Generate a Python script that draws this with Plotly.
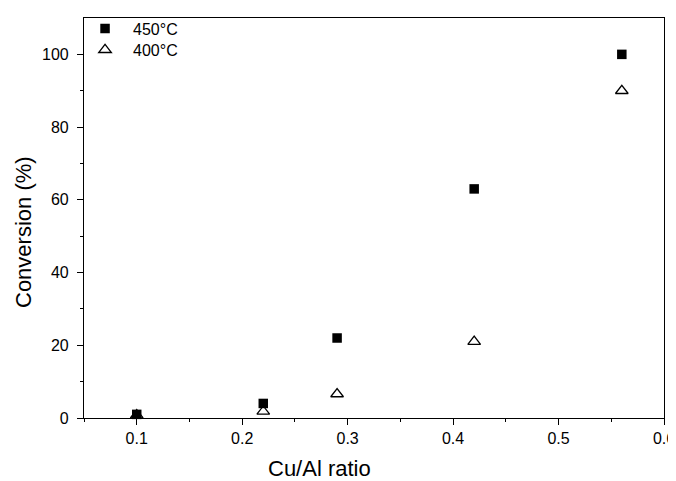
import plotly.graph_objects as go

cu_al_ratio = [0.10, 0.22, 0.29, 0.42, 0.56]
conv_450 = [1.0, 4.0, 22.0, 63.0, 100.0]
conv_400 = [0.8, 1.8, 6.6, 21.0, 90.0]
series_names = ["450°C", "400°C"]
x_ticks = [0.1, 0.2, 0.3, 0.4, 0.5, 0.6]
y_ticks = [0, 20, 40, 60, 80, 100]

font_family = "Liberation Sans, Arial, sans-serif"

fig = go.Figure()
fig.add_trace(go.Scatter(
    x=cu_al_ratio, y=conv_450, mode="markers", name=series_names[0],
    marker=dict(symbol="square", size=9.5, color="black", line=dict(width=0)),
    cliponaxis=False, legend="legend",
))
fig.add_trace(go.Scatter(
    x=cu_al_ratio, y=conv_400, mode="markers", name=series_names[1],
    marker=dict(symbol="triangle-up-open", size=11, color="black", line=dict(width=1.3, color="black")),
    cliponaxis=False, legend="legend2",
))

legend_style = dict(xanchor="left", yanchor="middle", bgcolor="rgba(0,0,0,0)",
                    font=dict(size=16, family=font_family), itemwidth=46)

# page body has an 8px default margin, so the figure is sized/offset to fit the 676x481 window
fig.update_layout(
    width=668, height=473,
    margin=dict(l=76, r=12, t=4, b=63),
    paper_bgcolor="white", plot_bgcolor="white",
    font=dict(family=font_family, color="black", size=16),
    showlegend=True,
    legend=dict(x=-0.012, y=0.9737, **legend_style),
    legend2=dict(x=-0.012, y=0.9204, **legend_style),
    annotations=[
        dict(text="Conversion (%)", xref="paper", yref="paper", x=0, y=0.5,
             xanchor="center", yanchor="middle", xshift=-61, yshift=-14, textangle=-90,
             showarrow=False, font=dict(size=22, family=font_family)),
        dict(text="Cu/Al ratio", xref="paper", yref="paper", x=0.5, y=0,
             xanchor="center", yanchor="middle", yshift=-50, xshift=-55,
             showarrow=False, font=dict(size=22, family=font_family)),
    ],
)
fig.update_xaxes(
    range=[0.05, 0.6], tickvals=x_ticks,
    ticktext=[f"{v:.1f}" for v in x_ticks],
    ticks="outside", ticklen=6, tickwidth=1, tickcolor="black",
    minor=dict(tickvals=[0.05, 0.15, 0.25, 0.35, 0.45, 0.55], ticks="outside", ticklen=3, tickcolor="black", tickwidth=1),
    showline=True, linecolor="black", linewidth=1.2, mirror=True,
    showgrid=False, zeroline=False, automargin=False,
    ticklabelstandoff=0, ticklabeloverflow="allow",
    tickfont=dict(size=16, family=font_family),
)
fig.update_yaxes(
    range=[0, 110], tickvals=y_ticks,
    ticks="outside", ticklen=6, tickwidth=1, tickcolor="black",
    minor=dict(tickvals=[10, 30, 50, 70, 90], ticks="outside", ticklen=3, tickcolor="black", tickwidth=1),
    showline=True, linecolor="black", linewidth=1.2, mirror=True,
    showgrid=False, zeroline=False, automargin=False,
    ticklabelstandoff=5, ticklabeloverflow="allow",
    tickfont=dict(size=16, family=font_family),
)

fig.write_html("out.html")
